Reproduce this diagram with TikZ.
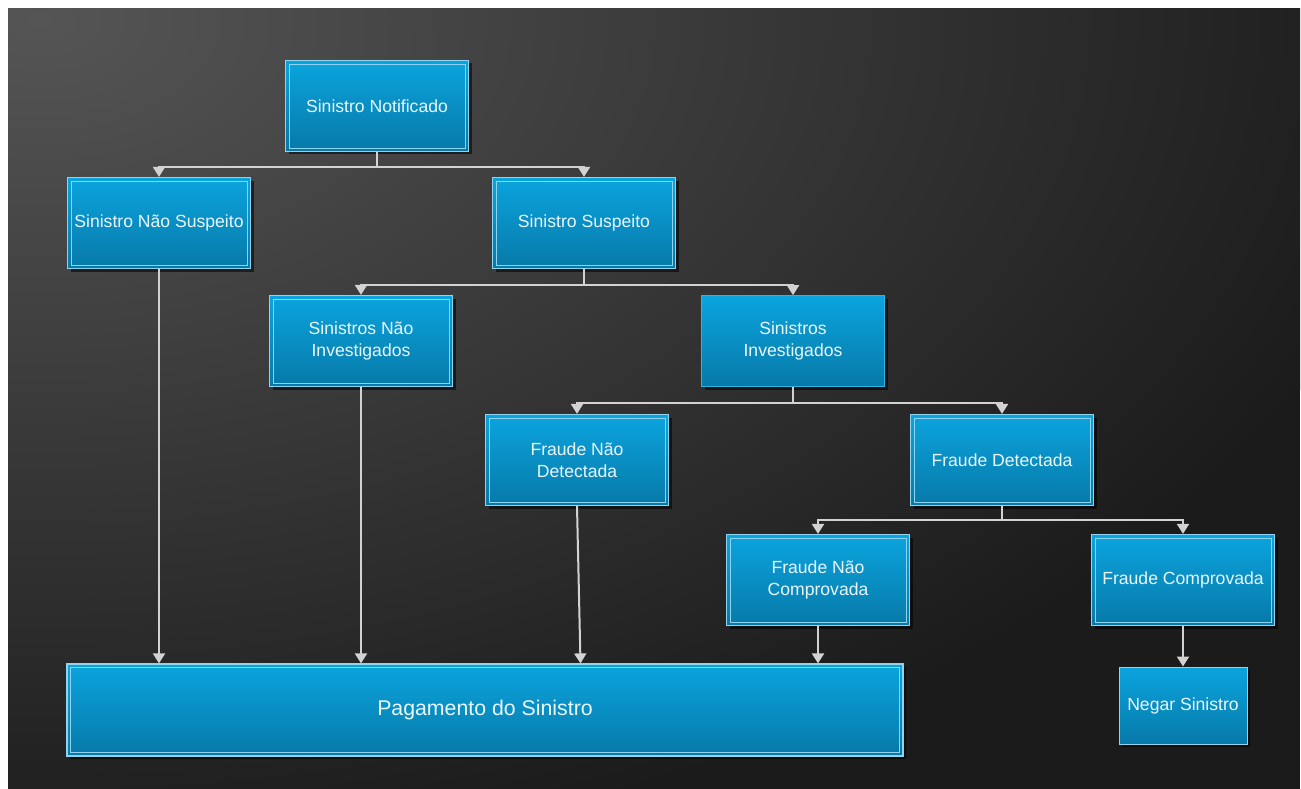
\documentclass[tikz,border=0pt]{standalone}
\usepackage{fontspec}
\setmainfont{Liberation Sans}
\usetikzlibrary{arrows.meta, shadows}
\definecolor{bgA}{HTML}{555555}
\definecolor{bgC}{HTML}{1B1B1B}
\definecolor{boxtop}{HTML}{0BA4DE}
\definecolor{boxbot}{HTML}{0779A8}
\definecolor{boxedge}{HTML}{8ED4EE}
\definecolor{boxtext}{HTML}{EAF6FB}
\definecolor{linkgray}{HTML}{D2D2D2}
\tikzstyle{box}=[rectangle, minimum width=183pt, minimum height=91pt, inner sep=0pt, top color=boxtop, bottom color=boxbot, draw=boxedge, line width=1.2pt, text=boxtext, align=center, font=\fontsize{17.6}{22}\selectfont, drop shadow={shadow xshift=3pt, shadow yshift=-3pt, fill=black, opacity=0.55}, path picture={\draw[boxedge, line width=0.7pt] ([shift={(3.5pt,-3.5pt)}]path picture bounding box.north west) rectangle ([shift={(-3.5pt,3.5pt)}]path picture bounding box.south east);}]
\tikzstyle{plainbox}=[box, path picture={}, draw=boxtop!85!white, line width=0.6pt]
\tikzstyle{thinbox}=[plainbox, draw=boxedge, line width=1pt]
\tikzstyle{link}=[draw=linkgray, line width=2pt, -{Triangle[width=12pt,length=10pt]}]

\begin{document}
\begin{tikzpicture}[x=1pt, y=-1pt]
    \useasboundingbox (0,0) rectangle (1301,789);
    \fill[white] (0,0) rectangle (1301,789);
    \begin{scope}
        \clip (8,9) rectangle (1300,789);
        \fill[bgC] (8,9) rectangle (1300,789);
        \shade[inner color=bgA, outer color=bgC] (40,20) ellipse (1400 and 850);
    \end{scope}
    \coordinate (c0) at (377,106);
    \coordinate (c1) at (159,223);
    \coordinate (c2) at (584,223);
    \coordinate (c3) at (361,341);
    \coordinate (c4) at (793,341);
    \coordinate (c5) at (577,460);
    \coordinate (c6) at (1002,460);
    \coordinate (c7) at (818,580);
    \coordinate (c8) at (1183,580);
    \coordinate (c9) at (485,710);
    \coordinate (c10) at (1183,705.5);
    \node[box] (notif) at (c0) {Sinistro Notificado};
    \node[box] (naosusp) at (c1) {Sinistro Não Suspeito};
    \node[box] (susp) at (c2) {Sinistro Suspeito};
    \node[box] (naoinv) at (c3) {Sinistros Não\\Investigados};
    \node[plainbox] (inv) at (c4) {Sinistros\\Investigados};
    \node[box] (fnd) at (c5) {Fraude Não\\Detectada};
    \node[box] (fd) at (c6) {Fraude Detectada};
    \node[box] (fnc) at (c7) {Fraude Não\\Comprovada};
    \node[box] (fc) at (c8) {Fraude Comprovada};
    \node[box, minimum width=836pt, minimum height=92pt, font=\fontsize{21.3}{26}\selectfont] (pag) at (c9) {Pagamento do Sinistro};
    \node[thinbox, minimum width=128pt, minimum height=77pt] (negar) at (c10) {Negar Sinistro};
    \draw[link] (notif.south) -- ++(0,15) -| (naosusp.north);
    \draw[link] (notif.south) -- ++(0,15) -| (susp.north);
    \draw[link] (susp.south) -- ++(0,16) -| (naoinv.north);
    \draw[link] (susp.south) -- ++(0,16) -| (inv.north);
    \draw[link] (inv.south) -- ++(0,16) -| (fnd.north);
    \draw[link] (inv.south) -- ++(0,16) -| (fd.north);
    \draw[link] (fd.south) -- ++(0,14) -| (fnc.north);
    \draw[link] (fd.south) -- ++(0,14) -| (fc.north);
    \draw[link] (naosusp.south) -- (naosusp.south |- pag.north);
    \draw[link] (naoinv.south) -- (naoinv.south |- pag.north);
    \draw[link] (fnd.south) -- ([xshift=3.5pt]fnd.south |- pag.north);
    \draw[link] (fnc.south) -- (fnc.south |- pag.north);
    \draw[link] (fc.south) -- (negar.north);
\end{tikzpicture}
\end{document}
